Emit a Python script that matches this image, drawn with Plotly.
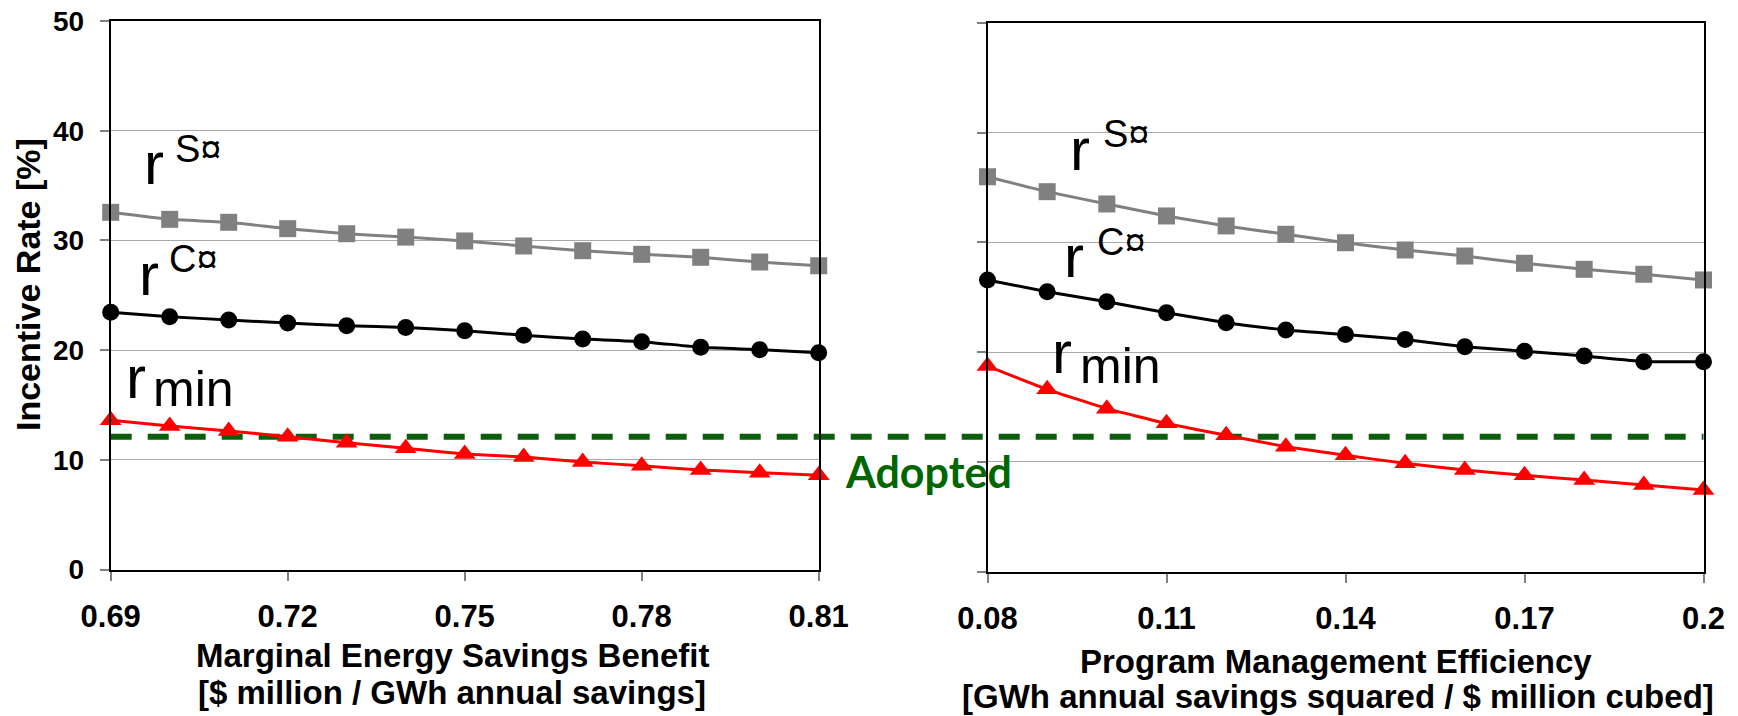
import plotly.graph_objects as go

W, H = 1738, 716

# ---------------- data ----------------
x_left = [0.69, 0.70, 0.71, 0.72, 0.73, 0.74, 0.75, 0.76, 0.77, 0.78, 0.79, 0.80, 0.81]
rS_left = [32.56, 31.92, 31.65, 31.07, 30.61, 30.30, 29.95, 29.49, 29.06, 28.73, 28.46, 28.03, 27.69]
rC_left = [23.44, 23.05, 22.74, 22.47, 22.22, 22.06, 21.77, 21.35, 21.01, 20.77, 20.26, 20.04, 19.76]
rmin_left = [13.60, 13.08, 12.63, 12.11, 11.56, 11.05, 10.53, 10.26, 9.80, 9.46, 9.07, 8.83, 8.59]

x_right = [0.08, 0.09, 0.10, 0.11, 0.12, 0.13, 0.14, 0.15, 0.16, 0.17, 0.18, 0.19, 0.20]
rS_right = [35.97, 34.61, 33.49, 32.40, 31.49, 30.73, 29.96, 29.30, 28.75, 28.09, 27.54, 27.09, 26.57]
rC_right = [26.57, 25.50, 24.59, 23.59, 22.68, 22.01, 21.60, 21.14, 20.49, 20.08, 19.64, 19.13, 19.13]
rmin_right = [18.73, 16.61, 14.85, 13.51, 12.42, 11.39, 10.60, 9.87, 9.26, 8.78, 8.35, 7.90, 7.44]

adopted_rate = 12.1

x_ticks_left = [0.69, 0.72, 0.75, 0.78, 0.81]
x_ticktext_left = ["0.69", "0.72", "0.75", "0.78", "0.81"]
x_ticks_right = [0.08, 0.11, 0.14, 0.17, 0.20]
x_ticktext_right = ["0.08", "0.11", "0.14", "0.17", "0.2"]
y_ticks = [0, 10, 20, 30, 40, 50]

x_title_left = ["Marginal Energy Savings Benefit", "[$ million / GWh annual savings]"]
x_title_right = ["Program Management Efficiency", "[GWh annual savings squared / $ million cubed]"]
y_title = "Incentive Rate [%]"
adopted_label = "Adopted"

# ---------------- styling ----------------
ARIAL = "Liberation Sans, Arial, sans-serif"
GRAY = "#808080"
RED = "#ff0000"
BLACK = "#000000"
GREEN_LINE = "#0b5e0b"
GREEN_TEXT = "#006600"

series_style = [
    ("rS", GRAY, "square", 17),
    ("rC", BLACK, "circle", 17),
    ("rmin", RED, "triangle-up", 19),
]

fig = go.Figure()

panels = [
    (x_left, [rS_left, rC_left, rmin_left], "x", "y"),
    (x_right, [rS_right, rC_right, rmin_right], "x2", "y2"),
]
for xs, ys_list, xa, ya in panels:
    for (name, color, symbol, msize), ys in zip(series_style, ys_list):
        fig.add_trace(go.Scatter(
            x=xs, y=ys, mode="lines+markers", name=name,
            xaxis=xa, yaxis=ya, cliponaxis=False,
            line=dict(color=color, width=3, shape="spline", smoothing=0.4),
            marker=dict(color=color, symbol=symbol, size=msize, line=dict(width=0)),
            showlegend=False,
        ))

# pixel geometry of the two plot areas
L_x0, L_x1, L_ytop, L_ybot = 110.7, 818.7, 21.0, 569.5
R_x0, R_x1, R_ytop, R_ybot = 987.5, 1703.5, 22.7, 571.7

def px_dom_x(a, b):
    return [a / W, b / W]

def px_dom_y(top, bot):
    return [1 - bot / H, 1 - top / H]

xtickfont = dict(family=ARIAL, size=31, color="black", weight="bold")
ytickfont = dict(family=ARIAL, size=28, color="black", weight="bold")

common_x = dict(showgrid=False, zeroline=False, showline=True, linecolor="black",
                linewidth=2, mirror=True, ticks="outside", ticklen=9, tickwidth=2,
                tickcolor=GRAY, tickfont=xtickfont, tickmode="array",
                ticklabelstandoff=9, automargin=False)
common_y = dict(range=[0, 50], tickvals=y_ticks, tickmode="array", showgrid=True,
                gridcolor="#a8a8a8", gridwidth=1, zeroline=False, showline=True,
                linecolor="black", linewidth=2, mirror=True, ticks="outside",
                ticklen=9, tickwidth=2, tickcolor=GRAY, tickfont=ytickfont,
                automargin=False)

fig.update_layout(
    width=W, height=H,
    margin=dict(l=0, r=0, t=0, b=0, autoexpand=False),
    paper_bgcolor="white",
    plot_bgcolor="rgba(0,0,0,0)",
    xaxis=dict(domain=px_dom_x(L_x0, L_x1), range=[0.69, 0.81], anchor="y",
               tickvals=x_ticks_left, ticktext=x_ticktext_left, **common_x),
    yaxis=dict(domain=px_dom_y(L_ytop, L_ybot), anchor="x", ticklabelstandoff=10, **common_y),
    xaxis2=dict(domain=px_dom_x(R_x0, R_x1), range=[0.08, 0.20], anchor="y2",
                tickvals=x_ticks_right, ticktext=x_ticktext_right, **common_x),
    yaxis2=dict(domain=px_dom_y(R_ytop, R_ybot), anchor="x2", showticklabels=False, **common_y),
)

# Adopted dashed line spanning both panels
fig.add_shape(type="line", xref="paper", yref="y", layer="below",
              x0=L_x0 / W, x1=R_x1 / W, y0=adopted_rate, y1=adopted_rate,
              line=dict(color=GREEN_LINE, width=6, dash="21px,16px"))

annotations = []

def label(text, left_px, baseline_px, size, family=ARIAL, color="black",
          asc=0.905, desc=0.212, bearing=0.06, weight="normal"):
    center = baseline_px - (asc - desc) / 2 * size
    annotations.append(dict(
        text=text, xref="paper", yref="paper",
        x=(left_px - bearing * size - 1) / W, y=1 - center / H,
        xanchor="left", yanchor="middle", showarrow=False,
        font=dict(family=family, size=size, color=color, weight=weight),
    ))

def centered(text, cx_px, cy_px, size, angle=0):
    annotations.append(dict(
        text=text, xref="paper", yref="paper", textangle=angle,
        x=cx_px / W, y=1 - cy_px / H, xanchor="center", yanchor="middle",
        showarrow=False, font=dict(family=ARIAL, size=size, color="black", weight="bold"),
    ))

R_SIZE, SUP_SIZE, SUB_SIZE = 60, 38, 50
# left panel labels
label("r", 147, 184, R_SIZE); label("S\u00a4", 176, 162, SUP_SIZE)
label("r", 142, 295, R_SIZE); label("C\u00a4", 170, 272, SUP_SIZE)
label("r", 129, 398, R_SIZE); label("min", 155, 406, SUB_SIZE)
# right panel labels
label("r", 1073, 170, R_SIZE); label("S\u00a4", 1104, 147, SUP_SIZE)
label("r", 1067, 277, R_SIZE); label("C\u00a4", 1098, 255, SUP_SIZE)
label("r", 1055, 373, R_SIZE); label("min", 1082, 383, SUB_SIZE)

# Adopted text
label(adopted_label, 845, 488, 43, family="Lato, Open Sans, sans-serif", color=GREEN_TEXT,
      asc=0.987, desc=0.213, bearing=0.02, weight="bold")

TITLE_SIZE = 33
centered(x_title_left[0], 452, 655, TITLE_SIZE)
centered(x_title_left[1], 452, 692, TITLE_SIZE)
centered(x_title_right[0], 1336, 661, TITLE_SIZE)
centered(x_title_right[1], 1338, 696, TITLE_SIZE)
centered(y_title, 28, 285, TITLE_SIZE + 1, angle=-90)

fig.update_layout(annotations=annotations)

fig.write_html("out.html")
